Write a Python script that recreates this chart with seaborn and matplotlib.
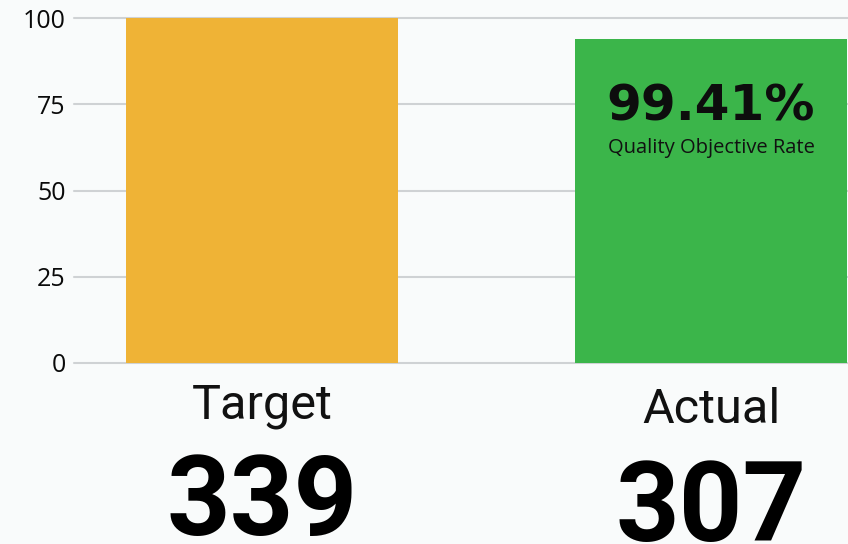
import matplotlib
matplotlib.use('Agg')
import matplotlib.pyplot as plt
import pandas as pd
import seaborn as sns

# chart data
categories = ['Target', 'Actual']
bar_values = [100, 94]
counts = ['339', '307']
rate_label = '99.41%'
rate_caption = 'Quality Objective Rate'
bar_colors = ['#EFB336', '#3BB54A']
y_ticks = [0, 25, 50, 75, 100]

df = pd.DataFrame({'category': categories, 'value': bar_values})

sns.set_style('white')
plt.rcParams['font.family'] = ['Open Sans', 'DejaVu Sans']

fig = plt.figure(figsize=(8.48, 5.44), dpi=100)
fig.patch.set_facecolor('#f9fbfb')
ax = fig.add_axes([74 / 848, 1 - 363 / 544, 1 - 74 / 848, (363 - 18) / 544])
ax.set_facecolor('none')

sns.barplot(data=df, x='category', y='value', hue='category',
            palette=bar_colors, width=0.606, saturation=1, legend=False,
            linewidth=0, ax=ax, zorder=2)

ax.set_ylim(0, 100)
ax.set_xlim(-0.419, 1.305)
ax.set_yticks(y_ticks)
ax.set_yticklabels([str(t) for t in y_ticks], fontsize=18, color='#0a0a0a')
ax.tick_params(axis='y', length=0, pad=6)
ax.set_xticks([])
ax.set_xlabel('')
ax.set_ylabel('')
for t in y_ticks:
    ax.axhline(t, color='#cfd2d4', lw=1.5, zorder=1, clip_on=False)
for s in ax.spines.values():
    s.set_visible(False)

# rate text inside the actual bar
ax.text(1, 70.4, rate_label, ha='center', va='baseline', fontsize=36,
        fontweight='bold', family='DejaVu Sans', color='#0d0d0d')
ax.text(1, 61.0, rate_caption, ha='center', va='baseline', fontsize=14.5,
        color='#111111')

# category names and counts below the bars
trans = ax.get_xaxis_transform()
name_y = [-0.16, -0.175]
count_y = [-0.5, -0.515]
for i, (name, cnt) in enumerate(zip(categories, counts)):
    ax.text(i, name_y[i], name, transform=trans, ha='center', va='baseline',
            fontsize=35, family='Roboto', color='#111111', clip_on=False)
    ax.text(i, count_y[i], cnt, transform=trans, ha='center', va='baseline',
            fontsize=80, family='Roboto', fontweight='bold', color='#000000', clip_on=False)

fig.savefig('out.png', dpi=100, facecolor=fig.get_facecolor())
